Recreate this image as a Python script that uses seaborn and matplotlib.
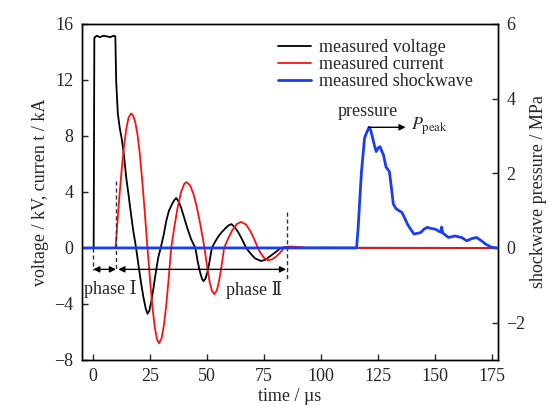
import numpy as np
import pandas as pd
import matplotlib
matplotlib.use('Agg')
import matplotlib.pyplot as plt
import seaborn as sns

# voltage (kV)
t_volt = [-5, 0.2, 0.5, 1.5, 3.0, 4.5, 6.0, 7.5, 9.0, 9.7, 10.1, 10.8, 11.6, 12.5, 13.5,
          14.5, 15.5, 16.5, 17.5, 18.8, 20.0, 21.0, 22.0, 23.0, 23.8, 24.6, 25.5, 26.5,
          27.5, 28.5, 29.6, 31.0, 32.0, 33.2, 34.5, 35.5, 36.4, 37.5, 38.5, 40.0, 41.5,
          43.0, 44.8, 45.8, 46.8, 47.7, 48.4, 49.2, 50.2, 51.1, 52.0, 53.5, 55.0, 56.5,
          58.0, 59.3, 60.6, 62.0, 63.5, 65.0, 67.1, 69.0, 71.0, 73.6, 75.5, 77.5, 80.0,
          82.3, 85.0, 88.0, 177]
voltage = [0, 0, 15.0, 15.15, 15.05, 15.15, 15.1, 15.05, 15.15, 15.1, 11.8, 9.6, 8.6, 7.8,
           6.6, 5.0, 3.8, 2.5, 1.3, 0, -1.4, -2.5, -3.5, -4.3, -4.7, -4.5, -3.8, -2.8,
           -1.7, -0.7, 0, 1.0, 1.9, 2.65, 3.1, 3.4, 3.56, 3.3, 2.9, 2.1, 1.3, 0.6, 0,
           -0.95, -1.7, -2.2, -2.37, -2.2, -1.65, -0.9, 0, 0.45, 0.85, 1.15, 1.4, 1.6, 1.7,
           1.5, 1.15, 0.7, 0, -0.4, -0.75, -0.93, -0.85, -0.6, -0.3, 0, 0.08, 0.02, 0]

# current (kA)
t_curr = [-5, 9.8, 10.5, 11.5, 12.5, 13.5, 14.5, 15.5, 16.6, 17.5, 18.5, 19.5, 20.5, 21.5,
          22.5, 23.8, 25.0, 26.0, 27.0, 28.0, 28.9, 30.0, 31.0, 32.0, 33.0, 34.2, 35.5,
          37.0, 38.5, 40.0, 40.9, 42.5, 44.0, 45.5, 47.0, 48.8, 50.0, 51.0, 52.0, 53.1,
          54.2, 55.2, 56.2, 57.4, 59.0, 61.0, 63.0, 64.9, 67.0, 69.0, 70.5, 72.2, 73.5,
          75.0, 76.8, 78.5, 80.0, 82.0, 83.7, 86.0, 89.0, 92.0, 95.0, 177]
current = [0, 0, 1.55, 3.7, 5.6, 7.25, 8.5, 9.3, 9.6, 9.45, 8.95, 8.0, 6.6, 4.8, 2.8, 0,
           -2.45, -4.26, -5.67, -6.54, -6.8, -6.44, -5.52, -4.13, -2.37, 0, 1.41, 2.87,
           3.98, 4.6, 4.7, 4.47, 3.84, 2.87, 1.65, 0, -1.4, -2.37, -3.04, -3.3, -3.04,
           -2.37, -1.39, 0, 0.61, 1.27, 1.71, 1.86, 1.67, 1.18, 0.67, 0, -0.38, -0.72,
           -0.88, -0.81, -0.65, -0.33, 0, 0.1, 0.08, 0.02, 0, 0]

# shockwave pressure (MPa)
t_shock = [-5, 115.5, 116.2, 117.6, 119.0, 120.0, 121.0, 121.7, 122.4, 123.3, 124.1, 125.0,
           125.8, 126.5, 127.3, 128.4, 129.9, 130.8, 131.6, 132.8, 134.0, 135.4, 136.6,
           137.8, 139.2, 140.7, 142.0, 143.6, 145.0, 146.5, 148.3, 150.1, 151.5, 152.4,
           152.8, 153.3, 155.8, 157.2, 158.7, 160.0, 161.6, 163.8, 166.0, 168.1, 170.3,
           172.4, 174.6, 177]
pressure = [0, 0, 0.55, 2.0, 2.94, 3.1, 3.23, 3.15, 2.98, 2.75, 2.58, 2.68, 2.71, 2.6, 2.49,
            2.17, 2.04, 1.6, 1.18, 1.05, 1.0, 0.95, 0.8, 0.64, 0.5, 0.37, 0.39, 0.41, 0.5,
            0.55, 0.52, 0.5, 0.45, 0.42, 0.56, 0.4, 0.28, 0.3, 0.32, 0.3, 0.28, 0.19, 0.25,
            0.28, 0.19, 0.09, 0.02, 0.0]

volt_df = pd.DataFrame({'t': t_volt, 'v': voltage})
curr_df = pd.DataFrame({'t': t_curr, 'v': current})
shock_df = pd.DataFrame({'t': t_shock, 'p': pressure})

sns.set_theme(style='ticks')
plt.rcParams['font.family'] = ['Liberation Serif', 'DejaVu Serif']
plt.rcParams['mathtext.fontset'] = 'stix'
plt.rcParams['axes.linewidth'] = 1.0
fs = 13

fig = plt.figure(figsize=(5.49, 4.07), dpi=100)
ax = fig.add_axes([0.149, 0.1155, 0.758, 0.826])
ax2 = ax.twinx()

sns.lineplot(data=volt_df, x='t', y='v', ax=ax, color='black', lw=1.3,
             estimator=None, sort=False, label='measured voltage', legend=False)
sns.lineplot(data=curr_df, x='t', y='v', ax=ax, color='#ff1010', lw=1.3,
             estimator=None, sort=False, label='measured current', legend=False)
sns.lineplot(data=shock_df, x='t', y='p', ax=ax2, color='#1a3cf5', lw=2.0,
             estimator=None, sort=False, label='measured shockwave', legend=False)

ax.set_xlim(-5, 177.5)
ax.set_ylim(-8, 16)
ax2.set_ylim(-3, 6)
ax.set_xticks([0, 25, 50, 75, 100, 125, 150, 175])
ax.set_yticks([-8, -4, 0, 4, 8, 12, 16])
ax2.set_yticks([-2, 0, 2, 4, 6])

for a in (ax, ax2):
    a.tick_params(direction='in', length=4, width=1.0, labelsize=fs, pad=6)
    for s in a.spines.values():
        s.set_visible(True)
        s.set_color('black')
        s.set_linewidth(1.0)

ax.set_xlabel('time / µs', fontsize=fs, labelpad=2)
ax.set_ylabel('voltage / kV, curren t / kA', fontsize=fs, labelpad=4)
ax2.set_ylabel('shockwave pressure / MPa', fontsize=fs, labelpad=3)

# phase markers
dash = dict(color='#333333', lw=1.0, ls=(0, (3, 2)))
ax.plot([0, 0], [0, -1.6], **dash)
ax.plot([10, 10], [4.8, -1.6], **dash)
ax.plot([85, 85], [2.6, -2.2], **dash)
arr = dict(arrowstyle='<|-|>', color='black', lw=1.0, shrinkA=0, shrinkB=0, mutation_scale=9)
ax.annotate('', xy=(0, -1.53), xytext=(10, -1.53), arrowprops=arr)
ax.annotate('', xy=(11, -1.53), xytext=(84.6, -1.53), arrowprops=arr)
ax.text(7.4, -2.95, 'phase Ⅰ', fontsize=fs, ha='center', va='center')
ax.text(70.7, -3.0, 'phase Ⅱ', fontsize=fs, ha='center', va='center')

# peak annotation
ax2.annotate('', xy=(137, 3.23), xytext=(120.8, 3.23),
             arrowprops=dict(arrowstyle='-|>', color='black', lw=1.0,
                             shrinkA=0, shrinkB=0, mutation_scale=9))
ax2.text(120.6, 3.66, 'pressure', fontsize=fs, ha='center', va='center')
ax2.text(139.5, 3.25, r'$P_{\mathrm{peak}}$', fontsize=fs, ha='left', va='center')

h1, l1 = ax.get_legend_handles_labels()
h2, l2 = ax2.get_legend_handles_labels()
ax2.legend(h1 + h2, l1 + l2, loc='upper left', bbox_to_anchor=(0.471, 0.955),
           frameon=False, fontsize=fs, handlelength=1.85, handletextpad=0.45,
           labelspacing=0.0, borderpad=0, borderaxespad=0)

fig.savefig('out.png', dpi=100)
